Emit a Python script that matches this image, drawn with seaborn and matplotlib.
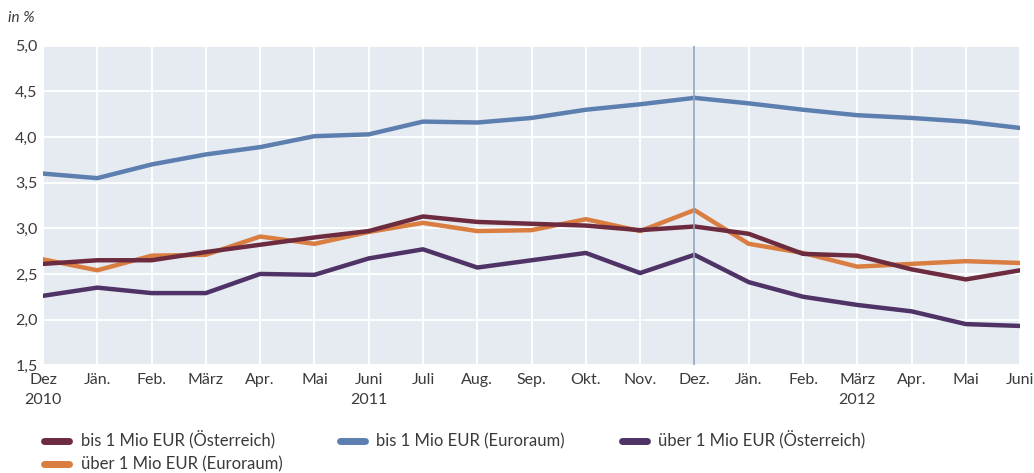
import matplotlib
matplotlib.use("Agg")
import matplotlib.pyplot as plt
from matplotlib.ticker import FuncFormatter
from matplotlib.lines import Line2D
import seaborn as sns
import pandas as pd

months = ["Dez\n2010", "Jän.", "Feb.", "März", "Apr.", "Mai", "Juni\n2011", "Juli",
          "Aug.", "Sep.", "Okt.", "Nov.", "Dez.", "Jän.", "Feb.", "März\n2012",
          "Apr.", "Mai", "Juni"]

series_names = ["bis 1 Mio EUR (Österreich)", "bis 1 Mio EUR (Euroraum)",
                "über 1 Mio EUR (Österreich)", "über 1 Mio EUR (Euroraum)"]

bis_at = [2.61, 2.65, 2.65, 2.74, 2.82, 2.90, 2.97, 3.13, 3.07, 3.05, 3.03, 2.98,
          3.02, 2.94, 2.72, 2.70, 2.55, 2.44, 2.54]
bis_ea = [3.60, 3.55, 3.70, 3.81, 3.89, 4.01, 4.03, 4.17, 4.16, 4.21, 4.30, 4.36,
          4.43, 4.37, 4.30, 4.24, 4.21, 4.17, 4.10]
ueber_at = [2.26, 2.35, 2.29, 2.29, 2.50, 2.49, 2.67, 2.77, 2.57, 2.65, 2.73, 2.51,
            2.71, 2.41, 2.25, 2.16, 2.09, 1.95, 1.93]
ueber_ea = [2.66, 2.54, 2.70, 2.71, 2.91, 2.83, 2.96, 3.06, 2.97, 2.98, 3.10, 2.97,
            3.20, 2.83, 2.73, 2.58, 2.61, 2.64, 2.62]

colors = ["#6d2b3f", "#5d7fb0", "#4f3366", "#d97d40"]

rows = []
for name, vals in zip(series_names, [bis_at, bis_ea, ueber_at, ueber_ea]):
    for i, v in enumerate(vals):
        rows.append({"Monat": i, "Serie": name, "Wert": v})
df = pd.DataFrame(rows)

sns.set_theme(style="white")
plt.rcParams["font.family"] = ["Lato", "DejaVu Sans"]

fig = plt.figure(figsize=(10.34, 4.73), dpi=100)
ax = fig.add_axes([0.0416, 0.228, 0.945, 0.675])
ax.set_facecolor("#e6ebf2")

# draw order: blue first, then orange, then maroon, purple on top
order = [1, 3, 0, 2]
for k in order:
    sub = df[df["Serie"] == series_names[k]]
    sns.lineplot(data=sub, x="Monat", y="Wert", color=colors[k], linewidth=3.2,
                 ax=ax, legend=False)

ax.axvline(12, color="#8ea3c3", linewidth=1.2, zorder=5)

ax.set_xlim(0, len(months) - 1)
ax.set_ylim(1.5, 5.0)
ax.set_xticks(range(len(months)))
ax.set_xticklabels(months, fontsize=11.5, color="#3a3a3a", linespacing=1.5)
ax.set_yticks([1.5, 2.0, 2.5, 3.0, 3.5, 4.0, 4.5, 5.0])
ax.yaxis.set_major_formatter(FuncFormatter(lambda v, p: f"{v:.1f}".replace(".", ",")))
ax.tick_params(axis="y", labelsize=11.5, labelcolor="#3a3a3a", length=0, pad=4)
ax.tick_params(axis="x", length=0, pad=6)
for lbl in ax.get_xticklabels():
    lbl.set_horizontalalignment("center")
ax.grid(True, color="white", linewidth=1.3)
ax.set_axisbelow(True)
for s in ax.spines.values():
    s.set_visible(False)
ax.set_xlabel("")
ax.set_ylabel("")

fig.text(0.008, 0.962, "in %", fontsize=11, style="italic", color="#3a3a3a",
         va="center", ha="left")

# legend is filled column by column, so order it to read row-wise like the original
leg_idx = [0, 3, 1, 2]
handles = [Line2D([0], [0], color=colors[i], linewidth=5) for i in leg_idx]
labels = [series_names[i] for i in leg_idx]
fig.legend(handles, labels, loc="upper left", bbox_to_anchor=(0.043, 0.088),
           ncol=3, frameon=False, fontsize=12, handlelength=1.5,
           columnspacing=3.4, handletextpad=0.7, labelspacing=0.4,
           labelcolor="#3a3a3a", borderaxespad=0, borderpad=0)

fig.savefig("out.png", dpi=100)
